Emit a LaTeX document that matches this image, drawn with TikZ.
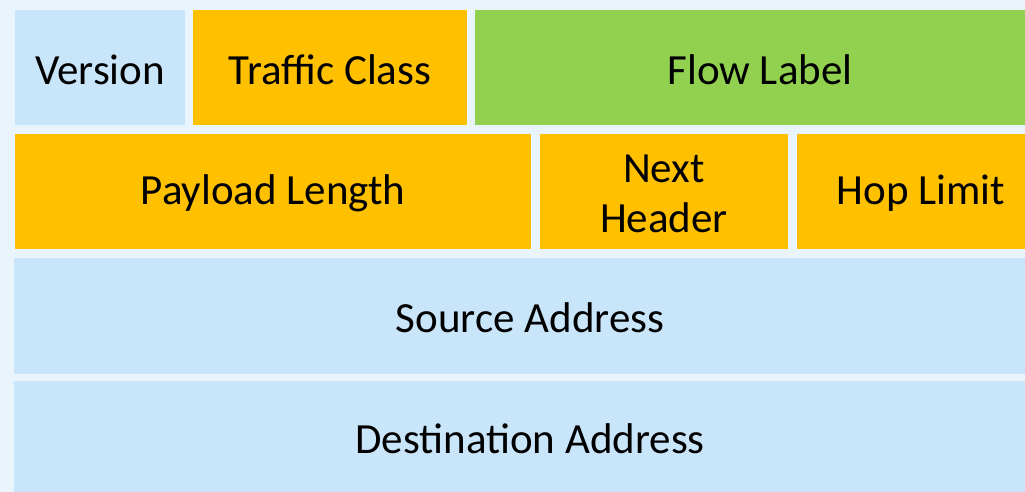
\documentclass[tikz,border=0pt]{standalone}
\usepackage{fontspec}
\setmainfont{Carlito}
\definecolor{bgc}{HTML}{EAF4FD}
\definecolor{lblue}{HTML}{C9E5FA}
\definecolor{orng}{HTML}{FFC000}
\definecolor{grn}{HTML}{92D050}
\begin{document}
\begin{tikzpicture}[x=1pt,y=-1pt,
  field/.style={inner sep=0pt, align=center, font=\fontsize{43}{50}\selectfont, text=black}]
\fill[bgc] (0,0) rectangle (1025,492);
\useasboundingbox (0,0) rectangle (1025,492);
% row 1
\fill[lblue] (15,10) rectangle (185,125);
\node[field] (ver) at (100,69.5) {Version};
\fill[orng] (193,10) rectangle (467,125);
\node[field] (tc) at (330,69.5) {Traffic Class};
\fill[grn] (475,10) rectangle (1025,125);
\node[field] (fl) at (760,69.5) {Flow Label};
% row 2
\fill[orng] (15,134) rectangle (531,249);
\node[field] (pl) at (273,193.5) {Payload Length};
\fill[orng] (540,134) rectangle (788,249);
\node[field] (nh) at (664,194) {Next\\Header};
\fill[orng] (797,134) rectangle (1025,249);
\node[field] (hl) at (921,193.5) {Hop Limit};
% row 3
\fill[lblue] (14,258) rectangle (1025,374);
\node[field] (sa) at (530,318) {Source Address};
% row 4
\fill[lblue] (14,381) rectangle (1025,492);
\node[field] (da) at (530,439) {Destination Address};
\end{tikzpicture}
\end{document}
